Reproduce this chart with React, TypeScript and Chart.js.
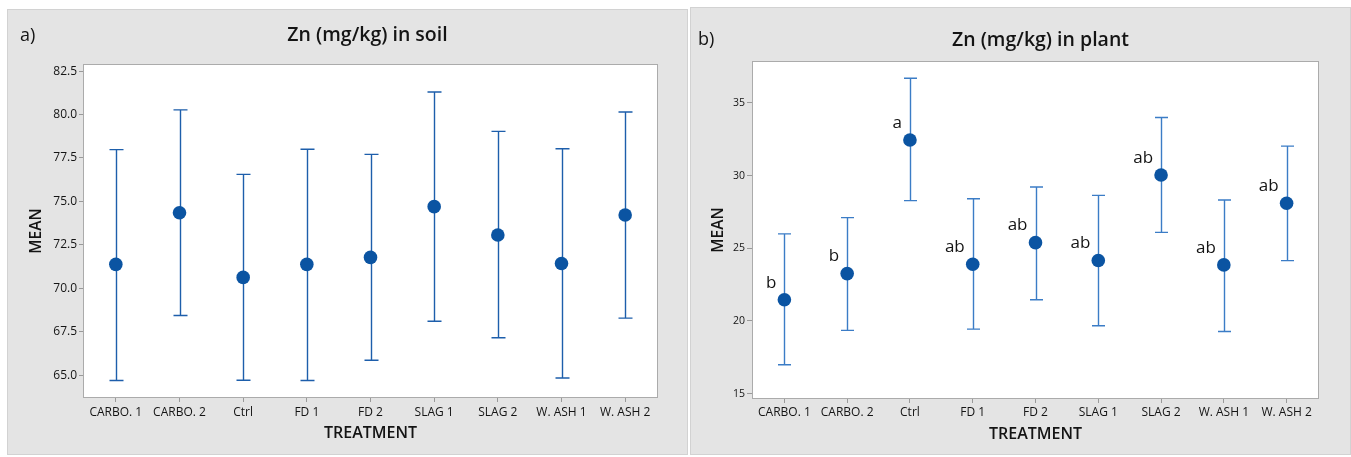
import React, { useEffect, useRef } from 'react';
import { Chart, registerables } from 'chart.js';

Chart.register(...registerables);

// ---------- data ----------
const treatments = ['CARBO. 1', 'CARBO. 2', 'Ctrl', 'FD 1', 'FD 2', 'SLAG 1', 'SLAG 2', 'W. ASH 1', 'W. ASH 2'];

const soilMean = [71.38, 74.35, 70.63, 71.38, 71.78, 74.7, 73.07, 71.43, 74.22];
const soilLower = [64.7, 68.44, 64.71, 64.7, 65.86, 68.11, 67.16, 64.84, 68.29];
const soilUpper = [77.98, 80.27, 76.56, 78.0, 77.71, 81.3, 79.03, 78.03, 80.15];
const soilTicks = [65, 67.5, 70, 72.5, 75, 77.5, 80, 82.5];

const plantMean = [21.46, 23.26, 32.45, 23.9, 25.39, 24.16, 30.04, 23.86, 28.1];
const plantLower = [16.99, 19.35, 28.28, 19.44, 21.46, 19.67, 26.1, 19.28, 24.15];
const plantUpper = [25.99, 27.11, 36.7, 28.41, 29.22, 28.64, 34.0, 28.32, 32.03];
const plantTicks = [15, 20, 25, 30, 35];
const plantLetters = ['b', 'b', 'a', 'ab', 'ab', 'ab', 'ab', 'ab', 'ab'];

const FONT = '"Open Sans", "DejaVu Sans", sans-serif';
const TEXT = '#141414';

type Spec = {
  mean: number[];
  lower: number[];
  upper: number[];
  ticks: number[];
  min: number;
  max: number;
  decimals: number;
  letters: string[] | null;
  title: string;
  tag: string;
  width: number;
  height: number;
  padTop: number;
  padRight: number;
  yWidth: number;
  xHeight: number;
  yTitlePad: number;
  xTitlePad: number;
  yTickFont: number;
  yTickLen: number;
  xLabelPad: number;
  titleY: number;
  titleDX: number;
  tagX: number;
  tagY: number;
  barColor: string;
  capHalf: number;
};

function ErrorPanel({ spec, left, top }: { spec: Spec; left: number; top: number }) {
  const ref = useRef<HTMLCanvasElement | null>(null);

  useEffect(() => {
    const canvas = ref.current;
    if (!canvas) return;
    const s = spec;

    const panelPlugin = {
      id: 'panelDeco',
      beforeDraw(chart: any) {
        const { ctx, chartArea: a, width, height } = chart;
        ctx.save();
        ctx.fillStyle = '#e4e4e4';
        ctx.fillRect(0, 0, width, height);
        ctx.strokeStyle = '#d2d2d2';
        ctx.lineWidth = 1;
        ctx.strokeRect(0.5, 0.5, width - 1, height - 1);
        ctx.fillStyle = '#ffffff';
        ctx.fillRect(a.left, a.top, a.right - a.left, a.bottom - a.top);
        ctx.restore();
      },
      beforeDatasetsDraw(chart: any) {
        const { ctx, chartArea: a } = chart;
        const xs = chart.scales.x;
        const ys = chart.scales.y;
        ctx.save();
        ctx.strokeStyle = '#ababab';
        ctx.lineWidth = 1;
        ctx.strokeRect(Math.round(a.left) - 0.5, Math.round(a.top) - 0.5, Math.round(a.right - a.left) + 1, Math.round(a.bottom - a.top) + 1);
        ctx.strokeStyle = s.barColor;
        ctx.lineWidth = 1.4;
        s.lower.forEach((lo, i) => {
          const px = Math.round(xs.getPixelForValue(i)) + 0.5;
          const yl = ys.getPixelForValue(lo);
          const yu = ys.getPixelForValue(s.upper[i]);
          ctx.beginPath();
          ctx.moveTo(px, yu);
          ctx.lineTo(px, yl);
          ctx.moveTo(px - s.capHalf, yu);
          ctx.lineTo(px + s.capHalf, yu);
          ctx.moveTo(px - s.capHalf, yl);
          ctx.lineTo(px + s.capHalf, yl);
          ctx.stroke();
        });
        ctx.restore();
      },
      afterDatasetsDraw(chart: any) {
        const { ctx, chartArea: a } = chart;
        const xs = chart.scales.x;
        const ys = chart.scales.y;
        ctx.save();
        ctx.fillStyle = TEXT;
        ctx.textBaseline = 'middle';
        // title
        ctx.font = `600 19.5px ${FONT}`;
        ctx.textAlign = 'center';
        ctx.fillText(s.title, (a.left + a.right) / 2 + s.titleDX, s.titleY);
        // tag
        ctx.font = `500 18px ${FONT}`;
        ctx.textAlign = 'left';
        ctx.fillText(s.tag, s.tagX, s.tagY);
        // significance letters
        if (s.letters) {
          ctx.font = `400 17px ${FONT}`;
          ctx.textAlign = 'right';
          s.letters.forEach((t, i) => {
            const px = xs.getPixelForValue(i);
            const py = ys.getPixelForValue(s.mean[i]);
            ctx.fillText(t, px - 8, py - 17);
          });
        }
        ctx.restore();
      },
    };

    const chart = new Chart(canvas, {
      type: 'line',
      data: {
        labels: treatments,
        datasets: [
          {
            data: s.mean,
            showLine: false,
            pointRadius: 6.8,
            pointHoverRadius: 6.8,
            pointBackgroundColor: '#0b54a2',
            pointBorderColor: '#0b54a2',
            pointBorderWidth: 0,
          },
        ],
      },
      options: {
        responsive: false,
        animation: false,
        events: [],
        layout: { padding: { top: s.padTop, right: s.padRight, left: 0, bottom: 0 } },
        plugins: { legend: { display: false }, tooltip: { enabled: false }, title: { display: false } },
        scales: {
          x: {
            type: 'category',
            offset: true,
            border: { display: false },
            grid: { display: true, drawOnChartArea: false, drawTicks: true, tickLength: 5, color: '#9a9a9a', tickColor: '#9a9a9a', offset: false },
            ticks: { font: { family: FONT, size: 12, weight: '500' }, color: TEXT, padding: s.xLabelPad, maxRotation: 0, autoSkip: false },
            title: { display: true, text: 'TREATMENT', color: TEXT, font: { family: FONT, size: 16, weight: '600' }, padding: { top: 0, bottom: s.xTitlePad } },
            afterFit: (sc: any) => {
              sc.height = s.xHeight;
            },
          },
          y: {
            type: 'linear',
            min: s.min,
            max: s.max,
            border: { display: false },
            grid: { display: true, drawOnChartArea: false, drawTicks: true, tickLength: s.yTickLen, color: '#9a9a9a', tickColor: '#9a9a9a' },
            afterBuildTicks: (sc: any) => {
              sc.ticks = s.ticks.map((v) => ({ value: v }));
            },
            ticks: {
              font: { family: FONT, size: s.yTickFont, weight: '500' },
              color: TEXT,
              padding: 2,
              callback: (v: any) => Number(v).toFixed(s.decimals),
            },
            title: { display: true, text: 'MEAN', color: TEXT, font: { family: FONT, size: 15.5, weight: '600' }, padding: { top: s.yTitlePad, bottom: 0 } },
            afterFit: (sc: any) => {
              sc.width = s.yWidth;
            },
          },
        },
      },
      plugins: [panelPlugin],
    } as any);

    return () => chart.destroy();
  }, [spec]);

  return (
    <canvas
      ref={ref}
      width={spec.width}
      height={spec.height}
      style={{ position: 'absolute', left, top, width: spec.width, height: spec.height }}
    />
  );
}

const soilSpec: Spec = {
  mean: soilMean,
  lower: soilLower,
  upper: soilUpper,
  ticks: soilTicks,
  min: 63.75,
  max: 82.85,
  decimals: 1,
  letters: null,
  title: 'Zn (mg/kg) in soil',
  tag: 'a)',
  width: 681,
  height: 446,
  padTop: 56,
  padRight: 31,
  yWidth: 77,
  xHeight: 58,
  yTitlePad: 20.5,
  xTitlePad: 12,
  yTickFont: 12,
  yTickLen: 5,
  xLabelPad: 3,
  titleY: 26,
  titleDX: -3,
  tagX: 13,
  tagY: 27,
  barColor: '#1d5eab',
  capHalf: 7,
};

const plantSpec: Spec = {
  mean: plantMean,
  lower: plantLower,
  upper: plantUpper,
  ticks: plantTicks,
  min: 14.7,
  max: 37.82,
  decimals: 0,
  letters: plantLetters,
  title: 'Zn (mg/kg) in plant',
  tag: 'b)',
  width: 661,
  height: 448,
  padTop: 55,
  padRight: 33,
  yWidth: 63,
  xHeight: 57,
  yTitlePad: 19.3,
  xTitlePad: 11,
  yTickFont: 10.5,
  yTickLen: 6,
  xLabelPad: 2,
  titleY: 33,
  titleDX: 5,
  tagX: 8,
  tagY: 33,
  barColor: '#3b7cc6',
  capHalf: 6.5,
};

export default function App() {
  return (
    <div style={{ position: 'absolute', left: 0, top: 0, width: 1351, height: 457, background: '#ffffff', overflow: 'hidden' }}>
      <ErrorPanel spec={soilSpec} left={7} top={9} />
      <ErrorPanel spec={plantSpec} left={690} top={7} />
    </div>
  );
}
